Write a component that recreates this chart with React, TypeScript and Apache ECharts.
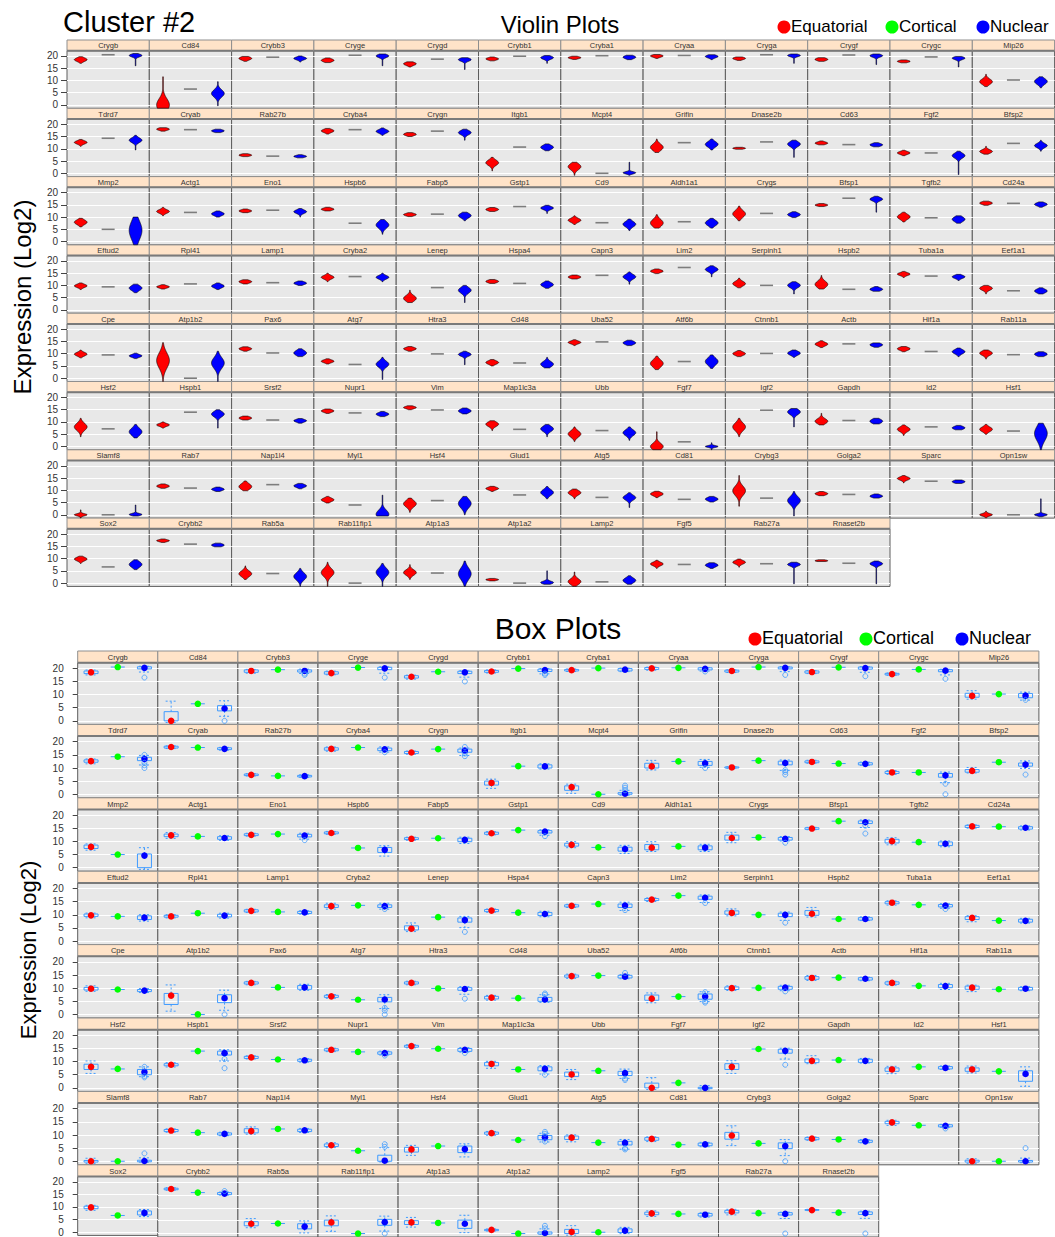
import React, { useEffect, useRef } from 'react';
import * as echarts from 'echarts';

const genes: string[] = [
  'Crygb','Cd84','Crybb3','Cryge','Crygd','Crybb1','Cryba1','Cryaa','Cryga','Crygf','Crygc','Mip26',
  'Tdrd7','Cryab','Rab27b','Cryba4','Crygn','Itgb1','Mcpt4','Grifin','Dnase2b','Cd63','Fgf2','Bfsp2',
  'Mmp2','Actg1','Eno1','Hspb6','Fabp5','Gstp1','Cd9','Aldh1a1','Crygs','Bfsp1','Tgfb2','Cd24a',
  'Eftud2','Rpl41','Lamp1','Cryba2','Lenep','Hspa4','Capn3','Lim2','Serpinh1','Hspb2','Tuba1a','Eef1a1',
  'Cpe','Atp1b2','Pax6','Atg7','Htra3','Cd48','Uba52','Atf6b','Ctnnb1','Actb','Hif1a','Rab11a',
  'Hsf2','Hspb1','Srsf2','Nupr1','Vim','Map1lc3a','Ubb','Fgf7','Igf2','Gapdh','Id2','Hsf1',
  'Slamf8','Rab7','Nap1l4','Myl1','Hsf4','Glud1','Atg5','Cd81','Crybg3','Golga2','Sparc','Opn1sw',
  'Sox2','Crybb2','Rab5a','Rab11fip1','Atp1a3','Atp1a2','Lamp2','Fgf5','Rab27a','Rnaset2b'
];

// [low, q1, median, q3, high] per gene
const eqStats: number[][] = [
  [17,18,18.5,19,19.7],[-1.3,0,0,3.5,11.5],[17.8,18.5,19,19.4,19.8],[17.3,17.8,18.2,18.7,19.2],[15.5,16.3,16.8,17.2,17.6],[18,18.5,18.8,19.2,19.6],
  [18.6,19,19.3,19.6,19.9],[19,19.6,20,20.3,20.6],[18.2,18.6,19,19.3,19.6],[17.8,18.2,18.6,19,19.3],[17.2,17.5,17.8,18.1,18.4],[7.5,9,9.5,10.5,12.5],
  [11,12.2,12.6,13.1,13.8],[17.2,17.6,18,18.3,18.6],[6.8,7.1,7.4,7.7,8],[16,16.8,17.3,17.7,18.3],[15,15.5,15.9,16.3,16.6],[1,3.5,4.3,5,6.5],
  [-0.8,1.5,2.7,3.2,4.5],[8.5,10,10.6,11.8,14],[9.8,10,10.2,10.4,10.6],[11.6,12,12.3,12.7,13.2],[7.2,7.9,8.3,8.7,9.4],[7.8,8.4,8.9,9.4,11],
  [6,7.3,7.9,8.6,9.5],[10.5,11.8,12.3,12.8,14],[11.8,12.2,12.5,12.9,13.3],[12.5,12.9,13.2,13.6,14],[10.2,10.7,11,11.4,11.8],[12.3,12.7,13.1,13.5,13.9],
  [7,8.2,8.7,9.3,10.5],[5.5,6.8,7.6,8.8,11],[8.5,10.5,11.3,12.4,14.5],[14.3,14.6,14.9,15.2,15.5],[8,9.4,10.1,10.8,12],[14.8,15.3,15.7,16.1,16.5],
  [8.3,9.4,9.8,10.3,11],[8.5,9.1,9.4,9.8,10.3],[10.6,11.1,11.5,11.9,12.3],[11.5,12.8,13.3,13.8,15],[3,4.2,4.7,5.8,8],[10.8,11.2,11.6,12,12.4],
  [12.6,13,13.4,13.8,14.2],[14.8,15.4,15.8,16.2,16.7],[9,10.2,10.7,11.5,13],[8.5,9.8,10.4,11.6,14],[13.2,14.2,14.6,15,15.7],[6.5,8.2,8.8,9.3,10],
  [8.3,9.3,9.8,10.3,11.5],[-1.3,3.8,7.2,8,14.5],[11,11.6,12,12.4,12.8],[5.8,6.5,6.9,7.3,7.9],[11,11.6,12,12.4,12.9],[5,5.9,6.4,6.9,7.6],
  [13.3,14.2,14.6,15,15.7],[3.5,5.4,6,7.4,9],[8.8,9.5,10,10.5,11.3],[12.5,13.4,13.9,14.4,15.3],[10.8,11.5,12,12.4,12.9],[7.8,9.6,10.2,10.8,11.5],
  [4,7,8,9,11.5],[7.5,8.4,8.8,9.2,10],[10.8,11.2,11.6,12,12.4],[13.5,14.1,14.5,14.9,15.3],[15,15.5,15.9,16.2,16.6],[6.5,8.4,9.1,9.7,10.5],
  [2,4.3,5.1,6,8],[-1.3,0,0,1.8,6],[4,7,8,9.2,11.5],[8.8,9.6,10.3,11,13.5],[4.5,6.3,7,7.6,8.8],[5,6.3,7,7.6,9],
  [-1.3,-0.3,0,0.3,2],[10.8,11.3,11.7,12.1,12.6],[9.8,10.8,11.5,12.4,13.8],[4.8,5.6,6.1,6.6,7.5],[1,3.5,4.5,5.3,6.8],[9.5,10.3,10.7,11.1,11.6],
  [6.5,8.3,9,9.6,10.5],[7,8,8.5,9,9.6],[3.5,8.4,9.8,11,16],[7.8,8.2,8.6,9,9.5],[13,14.3,14.8,15.2,16],[-1.3,-0.3,0,0.4,1.5],
  [8,9.3,9.8,10.3,11],[16.6,17,17.3,17.6,18],[1.5,3,3.8,4.6,7],[-1.3,3,4.3,5.2,8.5],[1.5,3.5,4.3,5,7.5],[0.9,1.1,1.4,1.6,1.9],
  [-1.3,0,0.6,1.6,4.5],[6,7.3,7.8,8.3,9.3],[6.5,8,8.5,9,9.8],[8.8,9,9.1,9.3,9.5]
];

const cortMed: number[] = [
  20.5,6.5,19.5,20.3,18.7,19.9,20.1,20.2,20.5,20.4,19.6,10.2,
  14.3,17.8,7.0,17.8,17.2,10.7,0,12.5,12.8,11.7,8.3,12.2,
  5.0,11.9,12.8,7.5,11.2,14.3,7.7,8.1,11.5,17.7,9.7,15.6,
  9.4,10.6,11.1,13.6,9.1,10.8,14.1,17.3,10.0,8.4,13.8,7.8,
  9.5,0,10.3,5.6,9.9,6.2,14.8,6.8,10.1,14.0,10.9,9.6,
  7.2,14.0,10.8,13.7,14.9,7.0,6.5,1.9,14.8,10.6,8.0,6.3,
  0,10.9,12.3,4.0,5.8,8.1,7.1,6.3,6.8,8.3,13.7,0,
  6.6,15.9,3.9,0,4.1,0,0.5,7.6,7.9,8.1
];

const nucStats: number[][] = [
  [16,19.8,20.2,20.6,21],[-0.3,3.8,4.7,5.8,9.5],[17.5,18.6,19,19.4,20],[16,19.5,20,20.4,20.8],[14.5,18,18.5,18.9,19.3],[17,18.8,19.3,19.7,20.2],
  [18.5,19,19.5,19.9,20.3],[18.5,19.4,19.8,20.2,20.5],[17,19.8,20.2,20.5,20.8],[16.5,19.7,20.1,20.5,20.8],[15.5,18.7,19.1,19.5,19.8],[7,8.8,9.6,10.4,11.5],
  [9.5,12.8,13.5,14.1,15.5],[16.6,17,17.3,17.7,18],[6.3,6.6,6.9,7.2,7.6],[15.5,16.6,17.1,17.6,18.5],[13.5,16,16.6,17.2,18],[9.2,10,10.6,11.2,12],
  [-0.8,0,0.2,0.6,4.5],[9.5,11,11.8,12.5,14],[6.5,11.2,11.9,12.6,13.5],[10.8,11.2,11.6,12,12.5],[-0.5,6.5,7.2,7.9,9],[9,10.7,11.3,11.9,13.5],
  [-1.3,0,4.6,5.2,10],[10,10.8,11.3,11.8,12.5],[10,11.7,12.2,12.7,13.5],[3,5.8,6.8,7.7,9],[8.5,9.9,10.6,11.2,12],[11.5,13.2,13.7,14.1,14.8],
  [4.5,6.3,7.1,7.8,9.2],[5.5,6.8,7.6,8.3,9.5],[9.8,10.5,11,11.5,12.2],[12,16.8,17.3,17.8,18.5],[7.5,8.4,9.1,9.8,10.5],[14,14.7,15.2,15.6,16.2],
  [7,8.2,8.9,9.6,10.5],[8.3,9.2,9.7,10.2,11],[10,10.5,10.9,11.3,11.8],[11.5,12.8,13.3,13.8,15],[3,7.2,8,8.8,10],[8.8,9.7,10.3,10.9,11.8],
  [10.5,12.8,13.5,14.1,15.5],[13.5,15.9,16.5,17.1,18],[6.5,9.3,10,10.6,11.5],[7.6,8,8.4,8.9,9.5],[12,13,13.5,13.9,14.5],[6.5,7.2,7.7,8.3,9],
  [8,8.7,9.1,9.5,10.2],[-1.3,4.5,6.2,7.5,11],[8.8,9.6,10.3,11,12],[-0.5,4.8,5.7,6.5,8.5],[5.5,9.2,9.7,10.2,11],[4.2,5,5.7,6.5,8.5],
  [13.3,13.9,14.4,14.9,15.5],[4,5.8,6.8,7.8,9.5],[8.5,9.6,10.2,10.7,11.5],[12.6,13.1,13.6,14,14.4],[8.8,10.2,10.8,11.4,12.3],[8.8,9.3,9.8,10.3,10.8],
  [3.5,5,6,7,9],[7.5,12.5,13.2,14,15],[9.5,10.1,10.5,10.9,11.4],[12.2,12.8,13.2,13.7,14.3],[13.3,13.9,14.5,15,15.7],[4,6.5,7.2,8,9],
  [2.5,4.7,5.6,6.3,8],[-1.3,-0.3,0,0.2,1.5],[8,13.2,14.1,14.7,15.5],[9.2,9.7,10.3,10.9,11.5],[6.8,7.2,7.6,8.1,8.6],[-1.3,2.5,5.3,6.5,9.5],
  [-0.5,-0.2,0.1,0.4,4],[9.5,10,10.4,10.8,11.3],[10.6,11.3,11.8,12.2,12.8],[-0.5,0,0.2,2.3,8],[0,3.3,4.6,5.8,7.5],[6.5,8.2,9.1,9.8,11.5],
  [3,6.2,7,7.6,9],[5.2,5.9,6.4,6.9,7.5],[-0.5,4.8,5.8,7,9.5],[6.8,7.2,7.6,8,8.5],[12.8,13.1,13.5,13.9,14.2],[-0.8,-0.3,0,0.3,6.5],
  [5.5,6.8,7.6,8.4,9.5],[14.8,15.1,15.5,15.9,16.3],[-1.3,1.8,2.7,3.8,6],[-1.3,3.2,4.4,5.5,8],[-1.3,2,3.8,5.2,9],[-0.5,-0.2,0.2,0.6,5],
  [-0.5,0.4,1.1,1.8,3],[6,6.8,7.3,7.8,8.3],[-0.3,7.2,7.6,8.1,8.5],[-0.3,7.4,7.9,8.4,9]
];

const nucOutliers: [string, number][] = [
  ['Crygb',16.5],['Cd84',0],['Crybb3',18],['Crybb3',17.5],['Cryge',16.5],['Crygd',15],['Crybb1',17.5],['Crybb1',18],
  ['Cryaa',18.8],['Cryga',17.5],['Crygf',17],['Crygc',16],['Mip26',8],['Tdrd7',10],['Tdrd7',11],['Tdrd7',12],['Tdrd7',15],
  ['Cryba4',16],['Crygn',14.5],['Crygn',15.5],['Crygn',18],['Mcpt4',1.5],['Mcpt4',2.5],['Mcpt4',3.3],['Grifin',10],
  ['Dnase2b',7.5],['Dnase2b',8.5],['Dnase2b',9.2],['Fgf2',4],['Fgf2',0],['Bfsp2',7.5],['Eno1',10.5],['Gstp1',12],
  ['Crygs',9.5],['Bfsp1',16],['Bfsp1',13],['Cryba2',12.2],['Lenep',3.5],['Capn3',11.8],['Lim2',14.5],['Serpinh1',7],
  ['Tuba1a',12.2],['Atp1b2',0],['Atg7',2.5],['Atg7',1.5],['Atg7',0],['Htra3',6],['Cd48',7.5],['Cd48',8],['Uba52',15.8],
  ['Atf6b',4.5],['Atf6b',5],['Atf6b',8.5],['Ctnnb1',8.8],['Hsf2',4],['Hsf2',4.5],['Hsf2',8],['Hspb1',7.5],['Hspb1',11],
  ['Nupr1',12.3],['Vim',13.3],['Map1lc3a',5],['Ubb',3.5],['Ubb',3],['Igf2',8.8],['Slamf8',3],['Myl1',5.5],['Myl1',6.5],
  ['Glud1',7.5],['Glud1',10.5],['Glud1',11.2],['Atg5',4.5],['Atg5',5],['Crybg3',0],['Sparc',12.5],['Opn1sw',5],
  ['Crybb2',16.5],['Rab11fip1',0],['Atp1a2',2],['Atp1a2',3],['Rab27a',0],['Rnaset2b',0]
];

const groups = ['Equatorial', 'Cortical', 'Nuclear'];
const groupColors = ['#FF0000', '#00FF00', '#0000FF'];
const yTicks = [0, 5, 10, 15, 20];

const YMIN = -1.35;
const YMAX = 22.15;
const FONT = '"Liberation Sans", Arial, Helvetica, sans-serif';
const BOXC = '#3F9BFF';

const VIO = { left: 67, top: 40, colW: 82.3, rowH: 68.3, headH: 10.7, labelMargin: 9, tickLen: 6 };
const BOX = { left: 77.7, top: 651, colW: 80.1, rowH: 73.4, headH: 11.7, labelMargin: 14, tickLen: 5 };

const clampY = (v: number) => Math.max(YMIN, Math.min(YMAX, v));

function violinItem(params: any, api: any) {
  const g = api.value(0);
  const lo = api.value(1), q1 = api.value(2), med = api.value(3), q3 = api.value(4), hi = api.value(5);
  const c = api.coord([g, clampY(med)]);
  const cx = c[0];
  if (g === 1) {
    return {
      type: 'line',
      shape: { x1: cx - 6.5, y1: c[1], x2: cx + 6.5, y2: c[1] },
      style: { stroke: '#7d7d7d', lineWidth: 1.6 },
    };
  }
  const sd = Math.max((q3 - q1) / 1.35, 0.35);
  const a = clampY(lo), b = clampY(hi);
  const N = 60;
  const right: number[][] = [];
  const left: number[][] = [];
  for (let i = 0; i <= N; i++) {
    const v = a + ((b - a) * i) / N;
    const w = Math.max(6.4 * Math.exp(-0.5 * Math.pow((v - med) / sd, 2)), 0.3);
    const py = api.coord([g, v])[1];
    right.push([cx + w, py]);
    left.unshift([cx - w, py]);
  }
  return {
    type: 'polygon',
    shape: { points: right.concat(left) },
    style: { fill: groupColors[g], stroke: '#000', lineWidth: 0.6 },
  };
}

function boxItem(params: any, api: any) {
  const g = api.value(0);
  const lo = api.value(1), q1 = api.value(2), med = api.value(3), q3 = api.value(4), hi = api.value(5);
  const iqr = q3 - q1;
  const wLo = clampY(Math.max(q1 - (q1 - lo) * 0.5, q1 - 1.5 * iqr));
  const wHi = clampY(Math.min(q3 + (hi - q3) * 0.5, q3 + 1.5 * iqr));
  const cx = api.coord([g, med])[0];
  const y = (v: number) => api.coord([g, clampY(v)])[1];
  const yq1 = y(q1), yq3 = y(q3), ym = y(med), ylo = y(wLo), yhi = y(wHi);
  const children: any[] = [];
  const dash = { stroke: BOXC, lineWidth: 1, lineDash: [2, 2] };
  if (iqr > 0) {
    if (wHi > q3) {
      children.push({ type: 'line', shape: { x1: cx, y1: yq3, x2: cx, y2: yhi }, style: dash });
      children.push({ type: 'line', shape: { x1: cx - 5.5, y1: yhi, x2: cx + 5.5, y2: yhi }, style: dash });
    }
    if (wLo < q1) {
      children.push({ type: 'line', shape: { x1: cx, y1: yq1, x2: cx, y2: ylo }, style: dash });
      children.push({ type: 'line', shape: { x1: cx - 5.5, y1: ylo, x2: cx + 5.5, y2: ylo }, style: dash });
    }
    children.push({
      type: 'rect',
      shape: { x: cx - 7, y: yq3, width: 14, height: Math.max(yq1 - yq3, 0.5) },
      style: { fill: 'none', stroke: BOXC, lineWidth: 1 },
    });
  } else {
    children.push({ type: 'line', shape: { x1: cx - 7, y1: ym, x2: cx + 7, y2: ym }, style: { stroke: BOXC, lineWidth: 1 } });
  }
  children.push({ type: 'circle', shape: { cx, cy: ym, r: 3.3 }, style: { fill: groupColors[g], stroke: 'none' } });
  return { type: 'group', children };
}

function buildOption() {
  const grid: any[] = [];
  const xAxis: any[] = [];
  const yAxis: any[] = [];
  const series: any[] = [];
  const graphic: any[] = [];
  const sections = [
    { kind: 'violin', ...VIO },
    { kind: 'box', ...BOX },
  ];
  let gi = 0;
  sections.forEach((sec) => {
    genes.forEach((name, i) => {
      const r = Math.floor(i / 12);
      const c = i % 12;
      const x0 = sec.left + c * sec.colW;
      const y0 = sec.top + r * sec.rowH;
      grid.push({
        left: x0, top: y0 + sec.headH, width: sec.colW, height: sec.rowH - sec.headH,
        show: true, backgroundColor: '#E8E8E8', borderColor: '#5c5c5c', borderWidth: 1,
      });
      xAxis.push({ type: 'category', gridIndex: gi, data: groups, show: false, boundaryGap: true });
      yAxis.push({
        type: 'value', gridIndex: gi, min: YMIN, max: YMAX,
        axisLine: { show: false },
        axisTick: { show: c === 0, length: sec.tickLen, customValues: yTicks, lineStyle: { color: '#444', width: 1 } },
        axisLabel: { show: c === 0, customValues: yTicks, fontSize: 10, color: '#333', margin: sec.labelMargin, fontFamily: FONT },
        splitLine: { show: true, lineStyle: { color: '#FFFFFF', width: 1.2 } },
      });
      const cm = cortMed[i];
      const rows = [
        [0, ...eqStats[i]],
        [1, cm, cm, cm, cm, cm],
        [2, ...nucStats[i]],
      ];
      series.push({
        type: 'custom', xAxisIndex: gi, yAxisIndex: gi, silent: true,
        renderItem: sec.kind === 'violin' ? violinItem : boxItem,
        encode: { x: 0, y: 3 },
        data: rows,
      });
      if (sec.kind === 'box') {
        const outs = nucOutliers.filter((o) => o[0] === name).map((o) => [2, o[1]]);
        if (outs.length) {
          series.push({
            type: 'scatter', xAxisIndex: gi, yAxisIndex: gi, silent: true,
            symbol: 'circle', symbolSize: 5, data: outs, z: 3,
            itemStyle: { color: 'rgba(0,0,0,0)', borderColor: BOXC, borderWidth: 1 },
          });
        }
      }
      graphic.push({
        type: 'rect', shape: { x: x0, y: y0, width: sec.colW, height: sec.headH },
        style: { fill: '#FFE3C8', stroke: '#8f8f8f', lineWidth: 1 }, silent: true,
      });
      graphic.push({
        type: 'line', shape: { x1: x0, y1: y0 + sec.headH, x2: x0 + sec.colW, y2: y0 + sec.headH },
        style: { stroke: '#7a7a7a', lineWidth: 2 }, silent: true,
      });
      graphic.push({
        type: 'text', x: x0 + sec.colW / 2, y: y0 + sec.headH / 2 + 0.5, silent: true,
        style: { text: name, fontSize: 7.5, fill: '#333', textAlign: 'center', textVerticalAlign: 'middle', fontFamily: FONT },
      });
      gi++;
    });
  });

  const txt = (text: string, x: number, y: number, size: number, align = 'left', rotation = 0) => ({
    type: 'text', x, y, rotation, silent: true,
    style: { text, fontSize: size, fill: '#000', textAlign: align, textVerticalAlign: 'middle', fontFamily: FONT },
  });
  const dot = (x: number, y: number, color: string) => ({
    type: 'circle', shape: { cx: x, cy: y, r: 6.5 }, style: { fill: color }, silent: true,
  });

  graphic.push(txt('Cluster #2', 63, 22, 29));
  graphic.push(txt('Violin Plots', 560, 24, 24, 'center'));
  graphic.push(dot(784, 27, groupColors[0]), txt('Equatorial', 791, 26, 17));
  graphic.push(dot(892, 27, groupColors[1]), txt('Cortical', 899, 26, 17));
  graphic.push(dot(983, 27, groupColors[2]), txt('Nuclear', 990, 26, 17));
  graphic.push(txt('Box Plots', 558, 628, 30, 'center'));
  graphic.push(dot(755, 639, groupColors[0]), txt('Equatorial', 762, 638, 18));
  graphic.push(dot(866, 639, groupColors[1]), txt('Cortical', 873, 638, 18));
  graphic.push(dot(962, 639, groupColors[2]), txt('Nuclear', 969, 638, 18));
  graphic.push(txt('Expression (Log2)', 22, 297, 24, 'center', Math.PI / 2));
  graphic.push(txt('Expression (Log2)', 28, 950, 22, 'center', Math.PI / 2));

  return {
    animation: false,
    backgroundColor: '#FFFFFF',
    grid, xAxis, yAxis, series, graphic,
  };
}

export default function App() {
  const ref = useRef<HTMLDivElement>(null);
  useEffect(() => {
    document.body.style.margin = '0';
    if (!ref.current) return;
    const chart = echarts.init(ref.current, undefined, { renderer: 'svg' });
    chart.setOption(buildOption() as any);
    return () => chart.dispose();
  }, []);
  return <div ref={ref} style={{ position: 'absolute', left: 0, top: 0, width: 1055, height: 1237 }} />;
}
